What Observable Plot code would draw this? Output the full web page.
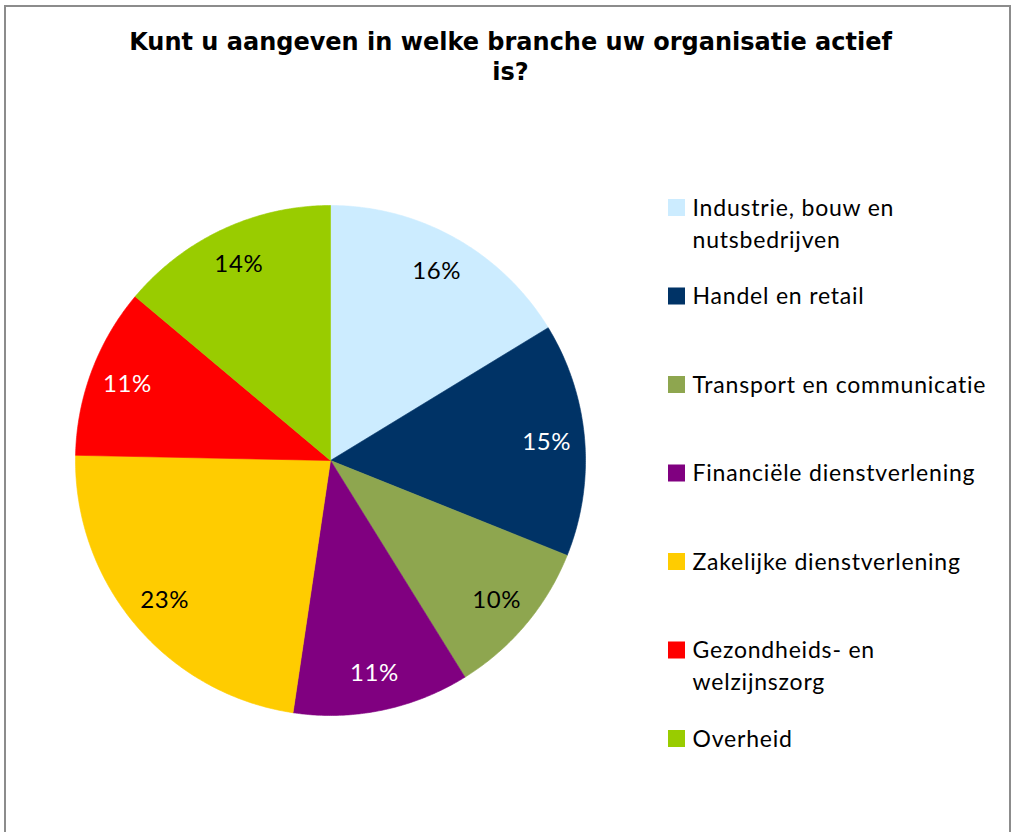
<!DOCTYPE html>
<html>
<head>
<meta charset="utf-8">
<script src="https://cdn.jsdelivr.net/npm/d3@7"></script>
<script src="https://cdn.jsdelivr.net/npm/@observablehq/plot@0.6"></script>
<style>
  html, body { margin: 0; padding: 0; background: #fff; }
  #wrap { position: relative; width: 1016px; height: 832px; overflow: hidden; background: #fff; }
  #border { position: absolute; left: 4px; top: 5px; width: 1007px; height: 900px; border: 2px solid #8c8c8c; box-sizing: border-box; }
  #title { position: absolute; left: 0; top: 27px; width: 1021px; text-align: center;
           font-family: "DejaVu Sans", Verdana, sans-serif; font-weight: bold; font-size: 24px; line-height: 30px; color: #000; }
  #chart { position: absolute; left: 0; top: 100px; }
</style>
</head>
<body>
<div id="wrap">
  <div id="border"></div>
  <div id="title">Kunt u aangeven in welke branche uw organisatie actief<br>is?</div>
  <div id="chart"></div>
</div>
<script>
// ---- data ----
const categories = [
  "Industrie, bouw en\nnutsbedrijven",
  "Handel en retail",
  "Transport en communicatie",
  "Financiële dienstverlening",
  "Zakelijke dienstverlening",
  "Gezondheids- en\nwelzijnszorg",
  "Overheid"
];
const values = [16.3, 14.8, 10.1, 11.2, 23.0, 10.8, 13.9];
const colors = ["#CCECFF", "#003366", "#8EA64F", "#800080", "#FFCC00", "#FF0000", "#99CC00"];
const labelColors = ["black", "white", "black", "white", "black", "white", "black"];

// ---- layout (page pixel units) ----
const W = 1016, H = 732, TOP = 100;
const cx = 330, cy = 460, R = 255, labelR = 217;
const legendX = 676, legendTextX = 692, legendY0 = 207, legendStep = 88.5;

const total = d3.sum(values);
const arcs = d3.pie().sort(null).value(d => d)(values);

// slice polygons
const slicePts = [];
arcs.forEach((a, i) => {
  slicePts.push({cat: categories[i], x: cx, y: cy});
  const n = Math.max(2, Math.ceil((a.endAngle - a.startAngle) / (Math.PI / 360)));
  for (let k = 0; k <= n; k++) {
    const t = a.startAngle + (a.endAngle - a.startAngle) * k / n;
    slicePts.push({cat: categories[i], x: cx + R * Math.sin(t), y: cy - R * Math.cos(t)});
  }
  slicePts.push({cat: categories[i], x: cx, y: cy});
});

const labelData = arcs.map((a, i) => {
  const m = (a.startAngle + a.endAngle) / 2;
  return {
    cat: categories[i],
    x: cx + labelR * Math.sin(m),
    y: cy - labelR * Math.cos(m),
    text: Math.round(values[i] / total * 100) + "%",
    color: labelColors[i]
  };
});

const legendData = categories.map((c, i) => ({cat: c, x: legendX, tx: legendTextX, y: legendY0 + i * legendStep}));

const labelFont = {fontFamily: "Lato, 'Open Sans', sans-serif", fontSize: 24};

const plot = Plot.plot({
  width: W,
  height: H,
  margin: 0,
  x: {domain: [0, W], range: [0, W], axis: null},
  y: {domain: [TOP, TOP + H], range: [0, H], axis: null},
  color: {domain: categories, range: colors},
  style: {background: "transparent"},
  marks: [
    Plot.line(slicePts, {x: "x", y: "y", z: "cat", fill: "cat", stroke: "cat", strokeWidth: 0.6, curve: "linear"}),
    Plot.text(labelData.filter(d => d.color === "white"), {x: "x", y: "y", text: "text", fill: "white", ...labelFont}),
    Plot.text(labelData.filter(d => d.color === "black"), {x: "x", y: "y", text: "text", fill: "black", ...labelFont}),
    Plot.dot(legendData, {x: "x", y: "y", fill: "cat", symbol: "square", r: 9.6}),
    Plot.text(legendData, {x: "tx", y: "y", text: "cat", fill: "black", textAnchor: "start",
      lineAnchor: "top", dy: -14.5, lineHeight: 1.39,
      fontFamily: "Lato, 'Open Sans', sans-serif", fontSize: 23})
  ]
});
const textGroups = plot.querySelectorAll('g[aria-label="text"]');
textGroups.forEach((g, i) => {
  g.style.letterSpacing = (i === textGroups.length - 1) ? "0.8px" : "0.6px";
});
document.getElementById("chart").appendChild(plot);
</script>
</body>
</html>
